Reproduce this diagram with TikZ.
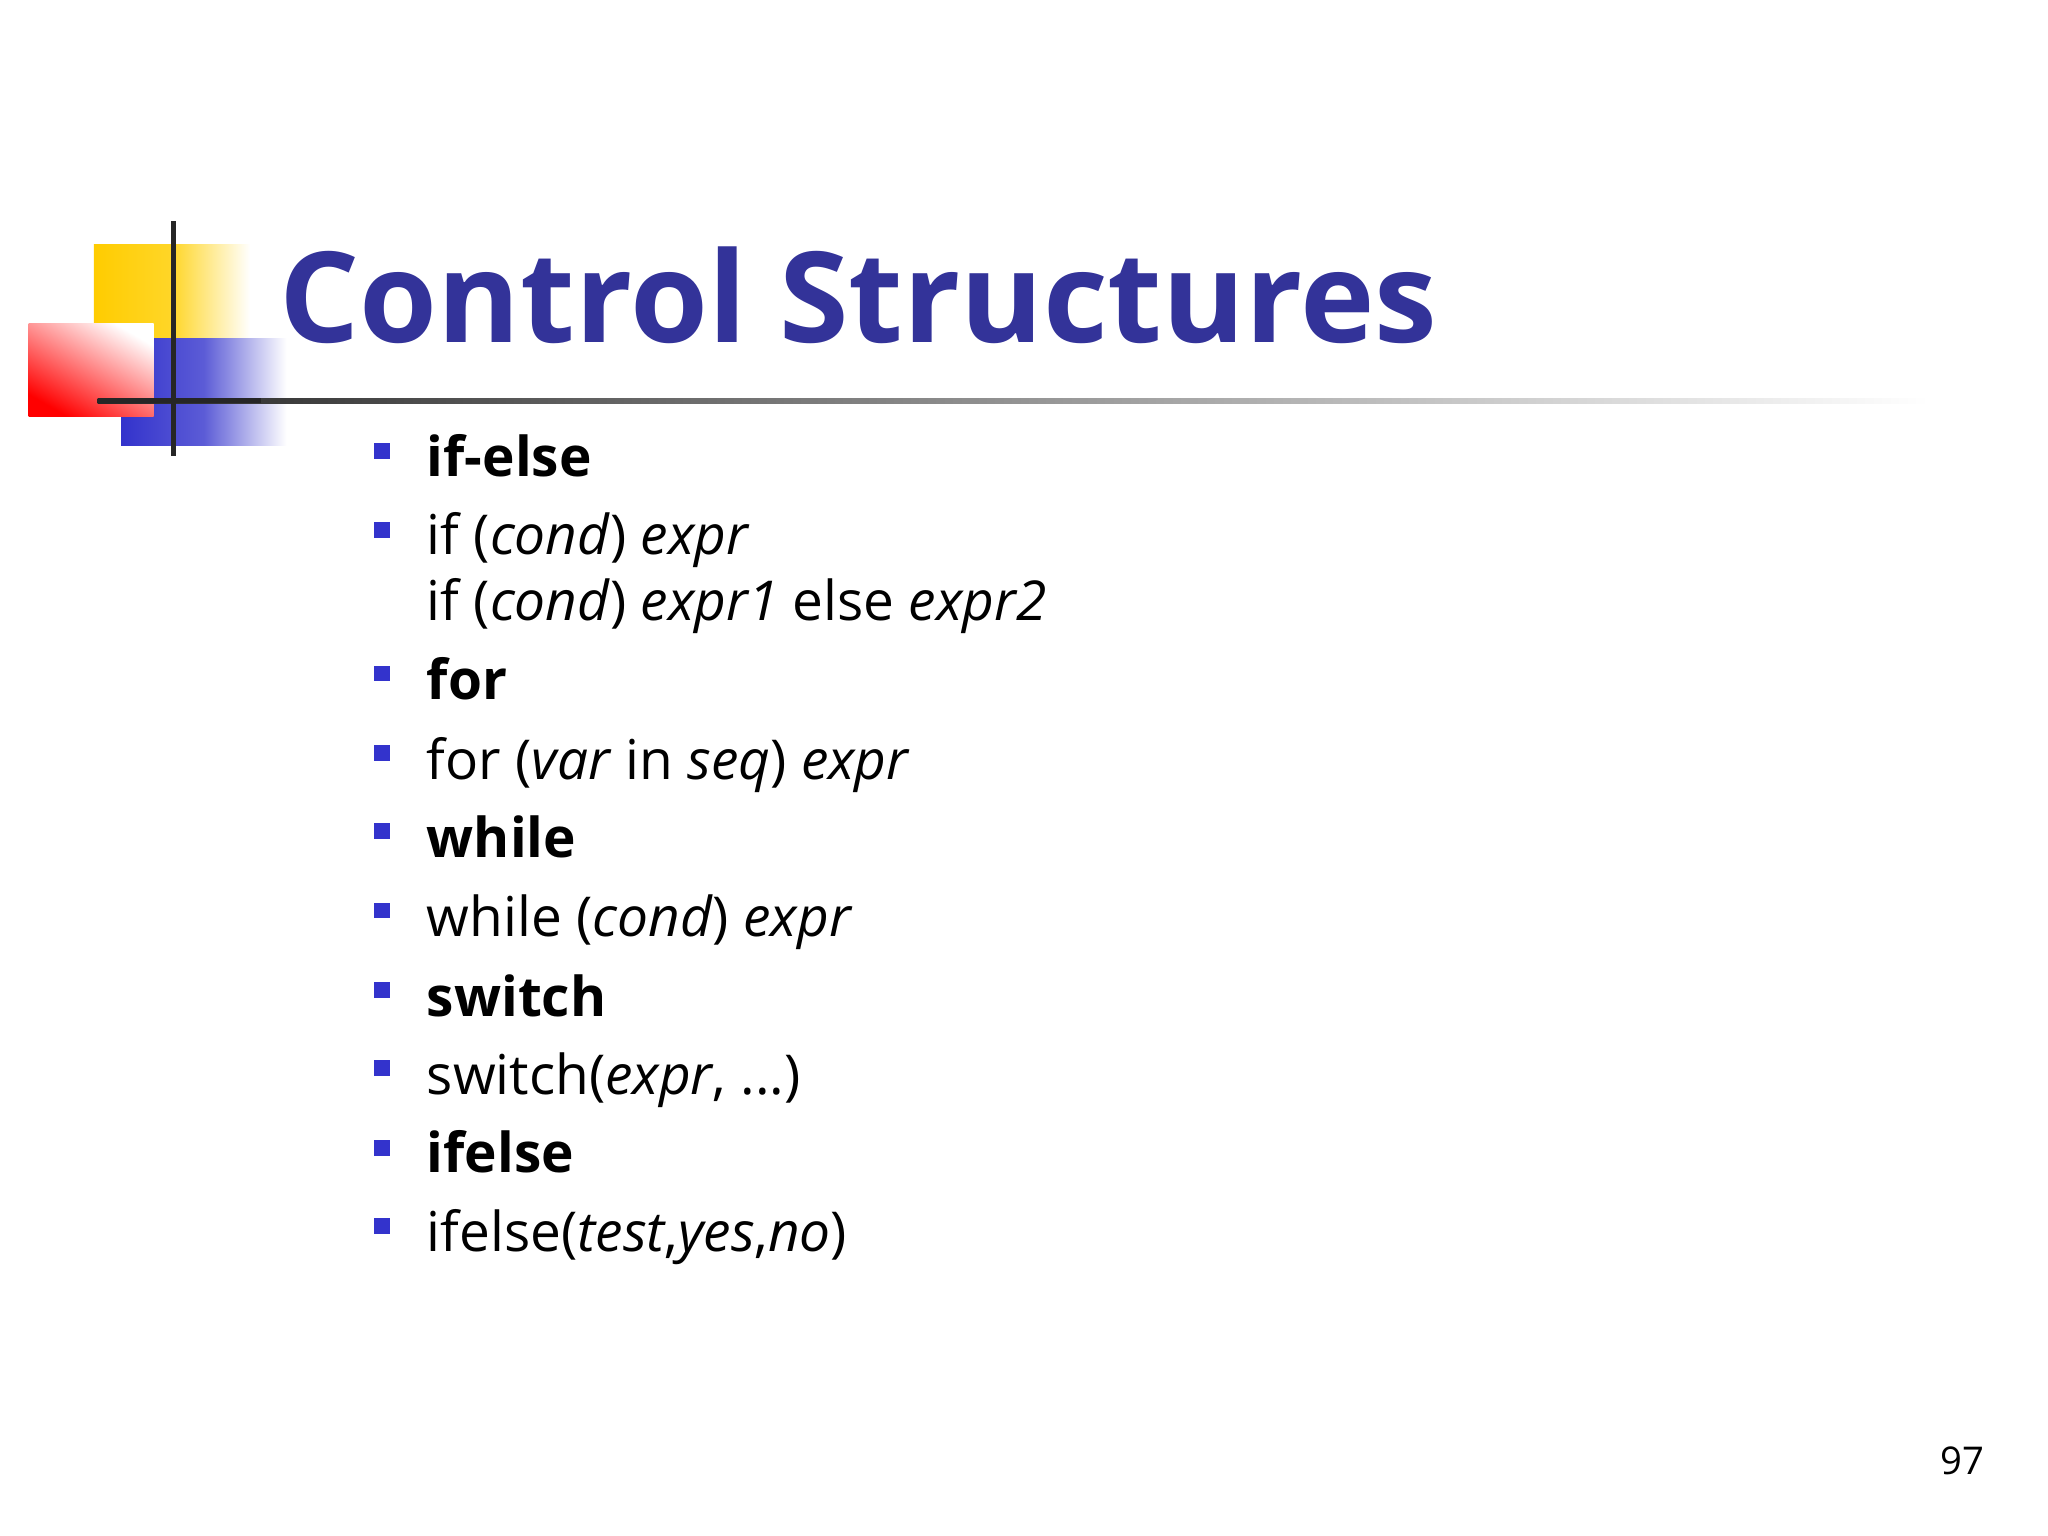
\documentclass[tikz,border=0pt]{standalone}
\usepackage{fontspec}
\setmainfont{Open Sans}
\definecolor{tblue}{RGB}{51,51,153}
\definecolor{bblue}{RGB}{51,51,204}
\begin{document}
\begin{tikzpicture}[x=0.01cm,y=-0.01cm,
  item/.style={anchor=base west,inner sep=0,font=\fontsize{12}{14}\selectfont},
  bul/.style={fill=bblue,draw=none,minimum size=0.12cm,inner sep=0}]
\useasboundingbox (0,0) rectangle (1572,1179);
\fill[white] (0,0) rectangle (1572,1179);
% logo
\shade[left color={rgb,255:red,255;green,204;blue,0},right color=white,middle color={rgb,255:red,255;green,214;blue,40}] (72,188) rectangle (192,300);
\shade[left color=bblue,right color=white,middle color=bblue!80] (93,260) rectangle (220,342);
\shade[left color=white,right color=red,shading angle=-30] (22,248) rectangle (118,320);
\shade[left color=black!85,right color=white] (75,305.5) rectangle (1480,309.5);
\fill[black!85] (75,305.5) rectangle (200,309.5);
\draw[line width=0.04cm,black!85] (133,170) -- (133,350);
\node[anchor=base west,inner sep=0,text=tblue,font=\fontsize{27.5}{30}\selectfont\bfseries] (title) at (214,263) {Control Structures};
% bullets
\foreach \y/\n in {346/b1,407/b2,517/b3,578/b4,638/b5,699/b6,760/b7,820/b8,881/b9,941/b10}
  \node[bul] (\n) at (293,\y) {};
\node[item] (t1) at (327,366) {\textbf{if-else}};
\node[item] (t2) at (327,426) {if (\textit{cond}) \textit{expr}};
\node[item] (t2b) at (327,476) {if (\textit{cond}) \textit{expr1} else \textit{expr2}};
\node[item] (t3) at (327,537) {\textbf{for}};
\node[item] (t4) at (327,598) {for (\textit{var} in \textit{seq}) \textit{expr}};
\node[item] (t5) at (327,658) {\textbf{while}};
\node[item] (t6) at (327,719) {while (\textit{cond}) \textit{expr}};
\node[item] (t7) at (327,780) {\textbf{switch}};
\node[item] (t8) at (327,840) {switch(\textit{expr}, ...)};
\node[item] (t9) at (327,900) {\textbf{ifelse}};
\node[item] (t10) at (327,961) {ifelse(\textit{test},\textit{yes},\textit{no})};
\node[anchor=base east,inner sep=0,font=\fontsize{8.35}{10}\selectfont] (pg) at (1524,1132) {97};
\end{tikzpicture}
\end{document}
